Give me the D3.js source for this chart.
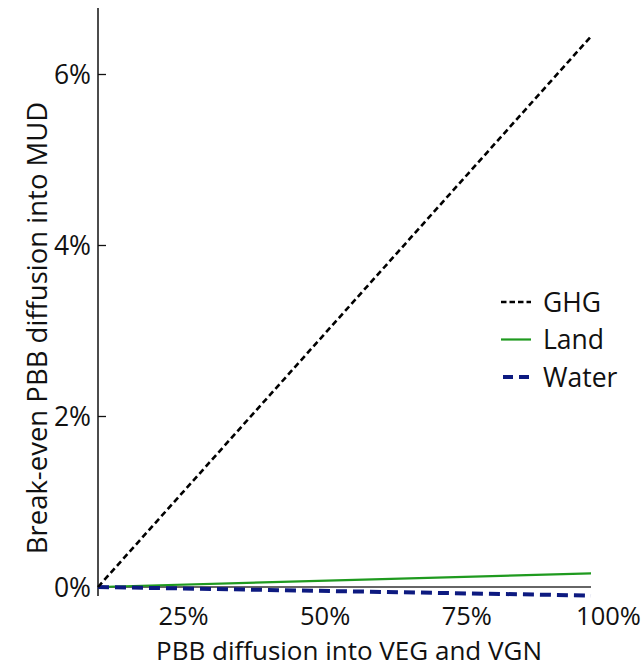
<!DOCTYPE html>
<html><head><meta charset="utf-8">
<script src="https://cdn.jsdelivr.net/npm/d3@7"></script>
<style>body{margin:0;background:#fff}svg{display:block}text{font-family:"Open Sans",sans-serif;fill:#111}</style>
</head><body><svg id="c" width="642" height="670"></svg>
<script>
const xStart = [0.10, 0.97];           // PBB diffusion into VEG and VGN
const ghg   = [0.0, 0.0644];
const land  = [0.0, 0.0016];
const water = [0.0, -0.0010];
const xTicks = [0.25, 0.5, 0.75, 1.0];
const yTicks = [0, 0.02, 0.04, 0.06];
const seriesNames = ["GHG","Land","Water"];

const svg = d3.select("#c");
const x = d3.scaleLinear().domain([0.10, 1.0]).range([98, 608]);
const y = d3.scaleLinear().domain([0, 0.06]).range([587, 74]);
const fmt = d3.format(".0%");
const FS = 26.5;

// y axis
const ya = svg.append("g").attr("transform","translate(98,0)")
  .call(d3.axisRight(y).tickValues(yTicks).tickFormat(fmt).tickSize(8).tickSizeOuter(0));
ya.select(".domain").remove();
ya.selectAll(".tick line").attr("stroke","#111").attr("stroke-width",1.3);
ya.selectAll(".tick text").attr("x",-7).attr("text-anchor","end").attr("font-size",FS).attr("fill","#222").attr("dy","0.36em");
svg.append("line").attr("x1",98).attr("x2",98).attr("y1",8).attr("y2",596).attr("stroke","#111").attr("stroke-width",1.5);

// x tick labels
const xa = svg.append("g").attr("transform","translate(0,587)")
  .call(d3.axisBottom(x).tickValues(xTicks).tickFormat(fmt).tickSize(0));
xa.select(".domain").remove();
xa.selectAll(".tick text").attr("y",38).attr("dy","0").attr("font-size",25.5).attr("fill","#222");

// zero line
svg.append("line").attr("x1",x(xStart[0])).attr("x2",x(xStart[1])).attr("y1",y(0)).attr("y2",y(0))
  .attr("stroke","#333").attr("stroke-width",1.3);

const line = d3.line().x(d=>x(d[0])).y(d=>y(d[1]));
const styles = {
  GHG:{data:ghg,color:"#000",w:2.6,dash:"6,3.5"},
  Land:{data:land,color:"#1f9a1f",w:2.2,dash:null},
  Water:{data:water,color:"#0d1a80",w:4,dash:"11,6"}
};
["Land","Water","GHG"].forEach(k=>{
  const s = styles[k];
  svg.append("path").datum(xStart.map((v,i)=>[v,s.data[i]])).attr("d",line)
    .attr("fill","none").attr("stroke",s.color).attr("stroke-width",s.w)
    .attr("stroke-dasharray",s.dash);
});

// legend
const lg = svg.append("g");
seriesNames.forEach((k,i)=>{
  const s = styles[k]; const yy = 302 + i*37.5;
  const x1 = k==="Water"?503:501, x2 = k==="Water"?529:531;
  lg.append("line").attr("x1",x1).attr("x2",x2).attr("y1",yy).attr("y2",yy)
    .attr("stroke",s.color).attr("stroke-width",s.w).attr("stroke-dasharray",s.dash? (k==="GHG"?"5.5,3":"10,6"):null);
  lg.append("text").attr("x",543).attr("y",yy).attr("dy","0.36em").attr("font-size",FS).attr("fill","#111").text(k);
});

// axis titles
svg.append("text").attr("x",349).attr("y",660).attr("text-anchor","middle").attr("font-size",26).text("PBB diffusion into VEG and VGN");
svg.append("text").attr("transform","translate(37,328) rotate(-90)").attr("text-anchor","middle").attr("dy","0.36em").attr("font-size",27.5).text("Break-even PBB diffusion into MUD");
</script></body></html>
